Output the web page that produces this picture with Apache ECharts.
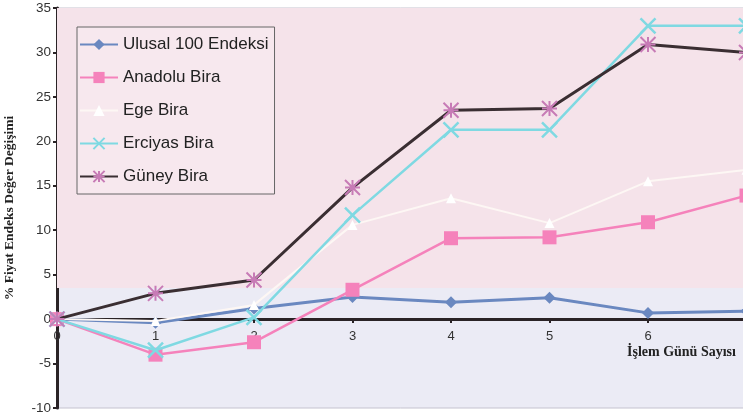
<!DOCTYPE html>
<html>
<head>
<meta charset="utf-8">
<script src="https://cdn.jsdelivr.net/npm/echarts@6/dist/echarts.min.js"></script>
<style>
  html, body { margin: 0; padding: 0; background: #ffffff; }
  #chart { width: 743px; height: 418px; }
</style>
</head>
<body>
<div id="chart"></div>
<script>
// Trading days after the event
const days = [0, 1, 2, 3, 4, 5, 6, 7];

// Percentage change of the price index per series
const ulusal100 = [0, -0.4, 1.2, 2.5, 1.9, 2.4, 0.7, 0.9];
const anadoluBira = [0, -4.0, -2.6, 3.3, 9.1, 9.2, 10.9, 13.9];
const egeBira = [0, -0.2, 1.6, 10.6, 13.6, 10.8, 15.5, 16.8];
const erciyasBira = [0, -3.5, 0.2, 11.7, 21.3, 21.3, 33.0, 33.0];
const guneyBira = [0, 2.9, 4.4, 14.8, 23.5, 23.7, 30.9, 30.0];

const seriesNames = ['Ulusal 100 Endeksi', 'Anadolu Bira', 'Ege Bira', 'Erciyas Bira', 'Güney Bira'];
const yTicks = { min: -10, max: 35, step: 5 };
const xTicks = { min: 0, max: 8, step: 1, lastLabel: 6 };

const pairs = vals => days.map((d, i) => [d, vals[i]]);

const chart = echarts.init(document.getElementById('chart'), null, { renderer: 'canvas' });

// plot box: 400px tall, the day axis is drawn along the zero line
const plotHeight = 400;
const zeroOffset = -plotHeight * (0 - yTicks.min) / (yTicks.max - yTicks.min);

chart.setOption({
  animation: false,
  backgroundColor: '#ffffff',
  grid: {
    left: 57, top: 8, width: 788, height: plotHeight,
    outerBoundsMode: 'none',
    containLabel: false,
    show: true,
    backgroundColor: '#ebebf5',
    borderColor: '#c4c2cf',
    borderWidth: 1
  },
  legend: {
    orient: 'vertical',
    left: 77, top: 27,
    padding: [9, 6, 9, 2],
    itemWidth: 38, itemHeight: 14,
    itemGap: 16,
    borderColor: '#666',
    borderWidth: 1,
    borderRadius: 0,
    backgroundColor: '#f7e8ee',
    textStyle: { fontFamily: 'Liberation Sans, Arial', fontSize: 17, color: '#222' },
    data: seriesNames
  },
  xAxis: {
    type: 'value',
    position: 'bottom',
    offset: zeroOffset,
    min: xTicks.min, max: xTicks.max, interval: xTicks.step,
    axisLine: { onZero: false, lineStyle: { color: '#2a2326', width: 3 } },
    axisTick: { show: true, length: 4, lineStyle: { color: '#2a2326', width: 2 } },
    axisLabel: {
      color: '#333', fontFamily: 'Liberation Sans, Arial', fontSize: 13, margin: 11,
      formatter: v => (v <= xTicks.lastLabel ? String(v) : '')
    },
    splitLine: { show: false }
  },
  yAxis: {
    type: 'value',
    min: yTicks.min, max: yTicks.max, interval: yTicks.step,
    name: '% Fiyat Endeks Değer Değişimi',
    nameLocation: 'middle',
    nameGap: 40,
    nameTextStyle: { fontFamily: 'Liberation Serif, Times New Roman', fontWeight: 'bold', fontSize: 13.5, color: '#222' },
    axisLine: { show: true, onZero: false, lineStyle: { color: '#2a2326', width: 3 } },
    axisTick: { show: true, length: 4, lineStyle: { color: '#2a2326', width: 2 } },
    axisLabel: { color: '#333', fontFamily: 'Liberation Sans, Arial', fontSize: 13.5, margin: 6 },
    splitLine: { show: false }
  },
  graphic: [
    {
      type: 'text', left: 627, top: 345,
      style: { text: 'İşlem Günü Sayısı', font: 'bold 14px "Liberation Serif", "Times New Roman"', fill: '#222' }
    }
  ],
  series: [
    {
      name: seriesNames[0], type: 'line', data: pairs(ulusal100),
      symbol: 'diamond', symbolSize: 12,
      lineStyle: { color: '#6a88c0', width: 3 },
      itemStyle: { color: '#6a88c0' },
      markArea: {
        silent: true,
        itemStyle: { color: '#f5e3ea' },
        data: [[{ yAxis: 3.5 }, { yAxis: 35 }]]
      },
      z: 2
    },
    {
      name: seriesNames[1], type: 'line', data: pairs(anadoluBira),
      symbol: 'rect', symbolSize: 14,
      lineStyle: { color: '#f582bb', width: 2.5 },
      itemStyle: { color: '#f582bb' },
      z: 3
    },
    {
      name: seriesNames[2], type: 'line', data: pairs(egeBira),
      symbol: 'triangle', symbolSize: 10,
      lineStyle: { color: '#fdf7f4', width: 2 },
      itemStyle: { color: '#ffffff' },
      z: 3
    },
    {
      name: seriesNames[3], type: 'line', data: pairs(erciyasBira),
      symbol: 'path://M0,0L10,10M10,0L0,10', symbolSize: 15,
      lineStyle: { color: '#7fd9e2', width: 2.5 },
      itemStyle: { color: 'none', borderColor: '#7fd9e2', borderWidth: 2.5 },
      z: 4
    },
    {
      name: seriesNames[4], type: 'line', data: pairs(guneyBira),
      symbol: 'path://M0,0L10,10M10,0L0,10M5,0L5,10M0,5L10,5', symbolSize: 15,
      lineStyle: { color: '#3a2e32', width: 3 },
      itemStyle: { color: 'none', borderColor: '#c77bb6', borderWidth: 2 },
      z: 5
    }
  ]
});
</script>
</body>
</html>
